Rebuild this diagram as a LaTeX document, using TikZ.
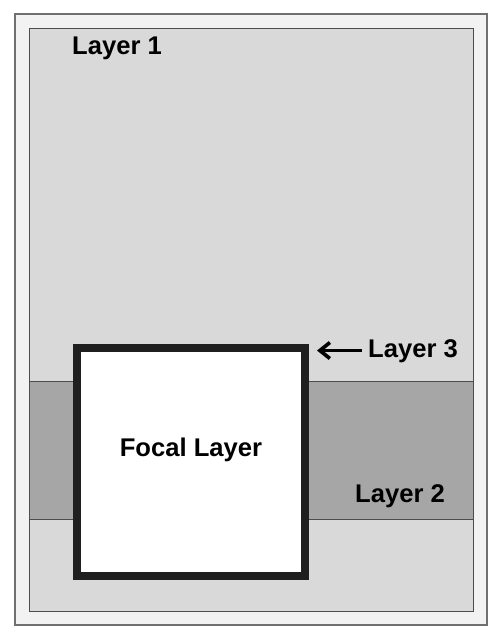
\documentclass[tikz,border=0pt]{standalone}
\usepackage{fontspec}
\setmainfont{Liberation Sans}
\usetikzlibrary{arrows.meta}
\definecolor{outerfill}{HTML}{F2F2F2}
\definecolor{outerline}{HTML}{707070}
\definecolor{innerfill}{HTML}{D9D9D9}
\definecolor{innerline}{HTML}{4D4D4D}
\definecolor{bandfill}{HTML}{A6A6A6}
\definecolor{focalline}{HTML}{1F1F1F}
\tikzset{
  lbl/.style={font=\fontsize{25.6}{30}\selectfont\bfseries, text=black, inner sep=0pt},
}
\begin{document}
\begin{tikzpicture}[x=1pt,y=-1pt]
\useasboundingbox[fill=white] (0,0) rectangle (501,640);
\draw[fill=outerfill, draw=outerline, line width=1.5pt] (15,14) rectangle (487,625);
\draw[fill=innerfill, draw=innerline, line width=1pt] (29.5,28) rectangle (473.5,611.5);
\draw[fill=bandfill, draw=innerline, line width=1pt] (29.5,381.5) rectangle (473.5,519.5);
\node[draw=focalline, fill=white, line width=8pt, minimum width=228pt, minimum height=228pt, inner sep=0pt] (focal) at (190.5,462) {};
\node[lbl, anchor=base] (focallbl) at (191,456) {Focal Layer};
\node[lbl, anchor=base west] (l1) at (72,54) {Layer 1};
\node[lbl, anchor=base west] (l3) at (368,357) {Layer 3};
\node[lbl, anchor=base west] (l2) at (355,502) {Layer 2};
\coordinate (tip) at (317,350.5);
\draw[line width=3.6pt, -{Straight Barb[length=10pt,width=16pt]}] (l3.west |- tip) ++(-6,0) -- (tip);
\end{tikzpicture}
\end{document}
